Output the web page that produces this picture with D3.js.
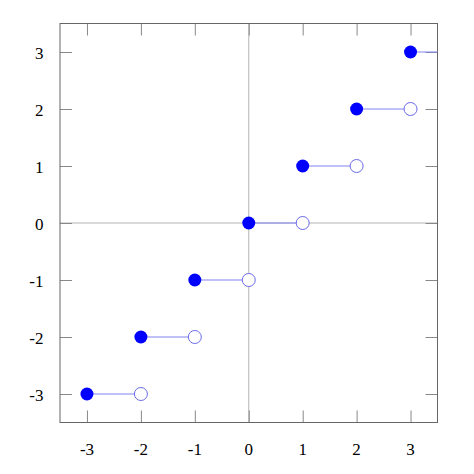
<!DOCTYPE html>
<html>
<head>
<meta charset="utf-8">
<script src="https://cdn.jsdelivr.net/npm/d3@7"></script>
<style>
  body { margin: 0; background: #fff; }
</style>
</head>
<body>
<svg id="chart" width="474" height="474"></svg>
<script>
// floor(x) steps: each segment starts at x, ends at x+1, value y
const stepStarts = [-3, -2, -1, 0, 1, 2, 3];
const stepEnds = [-2, -1, 0, 1, 2, 3, 4];
const stepValues = [-3, -2, -1, 0, 1, 2, 3];
const xTicks = [-3, -2, -1, 0, 1, 2, 3];
const yTicks = [-3, -2, -1, 0, 1, 2, 3];

const plotLeft = 60, plotTop = 23.5, plotRight = 437.5, plotBottom = 422.5;
const labelFont = '"Liberation Serif", "Times New Roman", serif';
const svg = d3.select('#chart');

const x = d3.scaleLinear().domain([-3.5, 3.5]).range([plotLeft, plotRight]);
const y = d3.scaleLinear().domain([-3.5, 3.5]).range([plotBottom, plotTop]);

svg.append('clipPath').attr('id', 'clip')
  .append('rect')
  .attr('x', plotLeft).attr('y', plotTop)
  .attr('width', plotRight - plotLeft).attr('height', plotBottom - plotTop);

// zero axes
svg.append('line')
  .attr('x1', x(0)).attr('x2', x(0)).attr('y1', plotTop).attr('y2', plotBottom)
  .attr('stroke', '#b4b4b4').attr('stroke-width', 1);
svg.append('line')
  .attr('x1', plotLeft).attr('x2', plotRight).attr('y1', y(0)).attr('y2', y(0))
  .attr('stroke', '#b4b4b4').attr('stroke-width', 1);

// ticks on all four sides
const tickLen = 12;
const tickColor = '#888';
svg.append('g').attr('transform', `translate(0,${plotBottom})`)
  .call(d3.axisTop(x).tickValues(xTicks).tickSize(tickLen).tickFormat(''))
  .call(g => g.select('.domain').remove())
  .call(g => g.selectAll('line').attr('stroke', tickColor));
svg.append('g').attr('transform', `translate(0,${plotTop})`)
  .call(d3.axisBottom(x).tickValues(xTicks).tickSize(tickLen).tickFormat(''))
  .call(g => g.select('.domain').remove())
  .call(g => g.selectAll('line').attr('stroke', tickColor));
svg.append('g').attr('transform', `translate(${plotLeft},0)`)
  .call(d3.axisRight(y).tickValues(yTicks).tickSize(tickLen).tickFormat(''))
  .call(g => g.select('.domain').remove())
  .call(g => g.selectAll('line').attr('stroke', tickColor));
svg.append('g').attr('transform', `translate(${plotRight},0)`)
  .call(d3.axisLeft(y).tickValues(yTicks).tickSize(tickLen).tickFormat(''))
  .call(g => g.select('.domain').remove())
  .call(g => g.selectAll('line').attr('stroke', tickColor));

// tick labels
svg.append('g').selectAll('text').data(xTicks).join('text')
  .attr('x', d => x(d)).attr('y', 455)
  .attr('text-anchor', 'middle')
  .attr('font-family', labelFont).attr('font-size', 17).attr('fill', '#000')
  .text(d => d);
svg.append('g').selectAll('text').data(yTicks).join('text')
  .attr('x', 43.5).attr('y', d => y(d) + 6.5)
  .attr('text-anchor', 'end')
  .attr('font-family', labelFont).attr('font-size', 17).attr('fill', '#000')
  .text(d => d);

// frame
svg.append('rect')
  .attr('x', plotLeft).attr('y', plotTop)
  .attr('width', plotRight - plotLeft).attr('height', plotBottom - plotTop)
  .attr('fill', 'none').attr('stroke', '#666').attr('stroke-width', 1);

const plot = svg.append('g').attr('clip-path', 'url(#clip)');
const steps = stepStarts.map((s, i) => ({ x0: s, x1: stepEnds[i], v: stepValues[i] }));

plot.selectAll('line.seg').data(steps).join('line')
  .attr('class', 'seg')
  .attr('x1', d => x(d.x0)).attr('x2', d => x(d.x1))
  .attr('y1', d => y(d.v)).attr('y2', d => y(d.v))
  .attr('stroke', '#8484f4').attr('stroke-width', 1.2);

plot.selectAll('circle.open').data(steps).join('circle')
  .attr('class', 'open')
  .attr('cx', d => x(d.x1)).attr('cy', d => y(d.v))
  .attr('r', 6.5)
  .attr('fill', '#fff').attr('stroke', '#6a6ae8').attr('stroke-width', 1);

plot.selectAll('circle.closed').data(steps).join('circle')
  .attr('class', 'closed')
  .attr('cx', d => x(d.x0)).attr('cy', d => y(d.v))
  .attr('r', 6.5)
  .attr('fill', '#0000ff');
</script>
</body>
</html>
